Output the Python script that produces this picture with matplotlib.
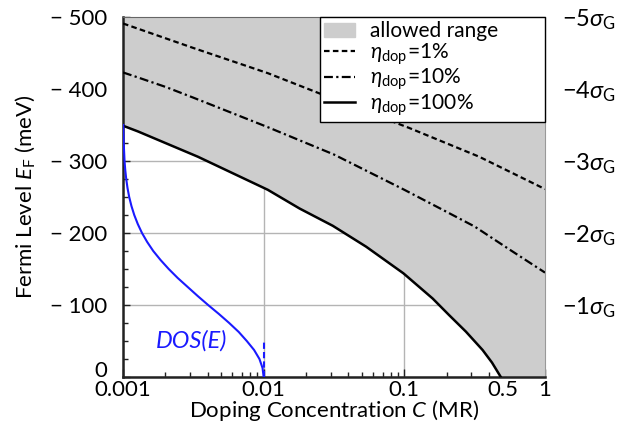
import matplotlib
matplotlib.use("Agg")
import matplotlib.pyplot as plt
import matplotlib.transforms as mtransforms
from matplotlib.patches import Patch
from matplotlib.lines import Line2D
from matplotlib.ticker import FixedLocator, FuncFormatter, LogLocator, MultipleLocator

plt.rcParams['font.family'] = ['Lato', 'DejaVu Sans']
plt.rcParams['mathtext.fontset'] = 'custom'
plt.rcParams['mathtext.rm'] = 'Lato'
plt.rcParams['mathtext.it'] = 'Lato:italic'
plt.rcParams['mathtext.bf'] = 'Lato:bold'
plt.rcParams['mathtext.fallback'] = 'cm'

# ---- data ----
# eta_dop = 100 %
c_100 = [0.001, 0.00128, 0.002, 0.0034, 0.0107, 0.018, 0.031, 0.0535, 0.0985,
         0.159, 0.208, 0.274, 0.36, 0.42, 0.485]
e_100 = [-349, -341, -325, -306, -260, -234, -210, -181, -144,
         -109, -86, -63, -37.5, -20, 0]
# eta_dop = 10 %
c_10 = [0.001, 0.00128, 0.002, 0.00316, 0.0107, 0.0316, 0.1, 0.18, 0.316, 0.55, 1.0]
e_10 = [-423, -416, -403, -388, -347, -309, -260, -234, -209, -178, -145]
# eta_dop = 1 %
c_1 = [0.001, 0.00316, 0.0107, 0.0316, 0.108, 0.34, 1.0]
e_1 = [-491, -457, -422, -386, -346, -306, -261]
# Gaussian DOS (normalised, drawn in the first decade)
e_dos = [0, -12.5, -25, -37.5, -50, -62.5, -75, -87.5, -100, -112.5, -125, -137.5,
         -150, -162.5, -175, -187.5, -200, -212.5, -225, -237.5, -250, -262.5,
         -275, -287.5, -300, -325, -350]
dos = [1.0, 0.992, 0.97, 0.932, 0.88, 0.823, 0.755, 0.682, 0.605, 0.531, 0.46, 0.389,
       0.325, 0.267, 0.215, 0.172, 0.135, 0.105, 0.08, 0.06, 0.044, 0.032,
       0.023, 0.016, 0.011, 0.005, 0.002]
dos_mark_c = [0.01, 0.01]
dos_mark_e = [0, -50]

xticks = [0.001, 0.01, 0.1, 1]
xticklabels = ["0.001", "0.01", "0.1", "1"]
yticks = [0, -100, -200, -300, -400, -500]
yticklabels = ["0", "\u2212 100", "\u2212 200", "\u2212 300", "\u2212 400", "\u2212 500"]
rticks = [-100, -200, -300, -400, -500]
rticklabels = [r"$-1\sigma_\mathrm{G}$", r"$-2\sigma_\mathrm{G}$", r"$-3\sigma_\mathrm{G}$",
               r"$-4\sigma_\mathrm{G}$", r"$-5\sigma_\mathrm{G}$"]

FS = 16

fig = plt.figure(figsize=(6.34, 4.41), dpi=100)
ax = fig.add_axes([123 / 634, 1 - 377 / 441, 422 / 634, 360 / 441])
ax.set_xscale('log')
ax.set_xlim(0.001, 1)
ax.set_ylim(0, -500)

grey = '#cdcdcd'
# allowed range
fx = c_100 + [1.0]
fy = e_100 + [0]
ax.fill_between(fx, fy, -500, color=grey, lw=0, zorder=1)

ax.grid(True, which='major', color='#b4b4b4', lw=1.0, zorder=0)
ax.set_axisbelow(True)

ls_1 = (0, (2.5, 1.5))
ls_10 = (0, (4, 1.5, 1, 1.5))
ax.plot(c_1, e_1, color='black', lw=1.6, ls=ls_1, zorder=3)
ax.plot(c_10, e_10, color='black', lw=1.6, ls=ls_10, zorder=3)
ax.plot(c_100, e_100, color='black', lw=1.8, zorder=3)

blue = '#1a1aff'
trans = mtransforms.blended_transform_factory(ax.transAxes, ax.transData)
ax.plot([d / 3 for d in dos], e_dos, color=blue, lw=1.5, transform=trans, zorder=4)
ax.plot(dos_mark_c, dos_mark_e, color=blue, lw=1.5, ls=(0, (3, 1.5)), zorder=4)
ax.text(0.00305, -50, "DOS(E)", color=blue, style='italic', fontsize=17,
        ha='center', va='center', zorder=5)

# ticks
ax.xaxis.set_major_locator(FixedLocator(xticks))
ax.set_xticklabels(xticklabels)
ax.xaxis.set_minor_locator(LogLocator(base=10, subs=range(2, 10)))
ax.xaxis.set_minor_formatter(FuncFormatter(lambda v, p: "0.5" if abs(v - 0.5) < 1e-9 else ""))
ax.set_yticks(yticks)
ax.set_yticklabels(yticklabels)
ax.yaxis.set_minor_locator(MultipleLocator(25))
ax.tick_params(which='both', direction='in', top=False, right=False, colors='#222222',
               labelcolor='black', labelsize=FS)
ax.tick_params(axis='x', which='major', length=6, width=1, pad=2)
ax.tick_params(axis='x', which='minor', length=3.5, width=1, pad=2)
ax.tick_params(axis='y', which='major', length=5, width=1, pad=11)
ax.tick_params(axis='y', which='minor', length=3.5, width=1)
ax.get_yticklabels()[0].set_va('baseline')

for s in ['left', 'bottom']:
    ax.spines[s].set_linewidth(1.8)
    ax.spines[s].set_color('#222222')
ax.spines['top'].set_linewidth(0.8)
ax.spines['top'].set_color('#666666')
ax.spines['right'].set_linewidth(0.8)
ax.spines['right'].set_color('#999999')

ax.set_xlabel("Doping Concentration $C$ (MR)", fontsize=FS, labelpad=-1)
ax.set_ylabel("Fermi Level $E_\\mathrm{F}$ (meV)", fontsize=FS, labelpad=10)

ax2 = ax.twinx()
ax2.set_ylim(0, -500)
ax2.set_yticks(rticks)
ax2.set_yticklabels(rticklabels)
ax2.tick_params(axis='y', length=0, pad=12, labelsize=17)
ax2.yaxis.set_minor_locator(FixedLocator([]))
for s in ax2.spines.values():
    s.set_visible(False)

handles = [Patch(facecolor=grey, edgecolor=grey),
           Line2D([], [], color='black', lw=1.6, ls=ls_1),
           Line2D([], [], color='black', lw=1.6, ls=ls_10),
           Line2D([], [], color='black', lw=1.8)]
labels = ["allowed range",
          r"$\eta_\mathrm{dop}\!=\!1\%$",
          r"$\eta_\mathrm{dop}\!=\!10\%$",
          r"$\eta_\mathrm{dop}\!=\!100\%$"]
leg = ax2.legend(handles, labels, loc='upper left', bbox_to_anchor=(0.467, 0.0, 0.533, 1.0),
                 mode='expand', borderaxespad=0, fontsize=15,
                 fancybox=False, framealpha=1, edgecolor='black',
                 handlelength=1.5, handletextpad=0.7, labelspacing=0.0, borderpad=0.2)
leg.get_frame().set_linewidth(1.0)
leg.set_zorder(10)

fig.savefig("out.png", dpi=100)
